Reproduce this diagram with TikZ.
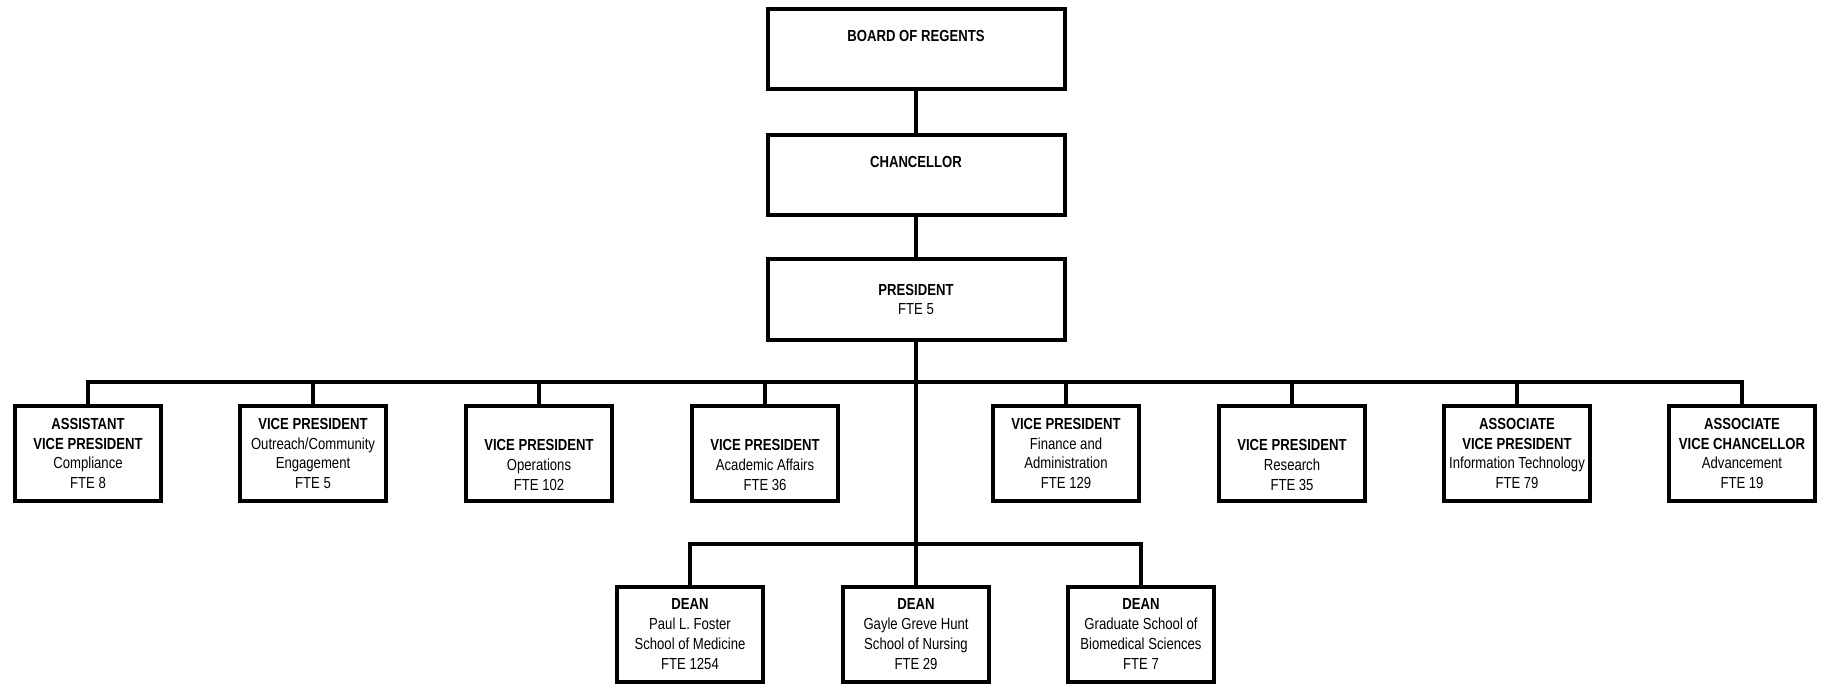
\documentclass[tikz,border=0pt]{standalone}
\usepackage{fontspec}
\setmainfont{Liberation Sans}[FakeStretch=0.82]
\begin{document}
\begin{tikzpicture}[line join=miter,x=0.5pt,y=-0.5pt,
    office/.style={draw,line width=2pt,minimum width=73pt,minimum height=47.5pt,
      inner sep=0pt,align=center,font=\fontsize{8}{9.9}\selectfont},
    topoffice/.style={office,minimum width=148.5pt,minimum height=40pt},
    link/.style={line width=1.7pt}]
		\useasboundingbox (0,0) rectangle (1825,684);
		% Top
		\node[topoffice] (board) at (916,49) {\textbf{BOARD OF REGENTS}\\\strut};
		\node[topoffice] (chanc) at (916,175) {\textbf{CHANCELLOR}\\\strut};
		\node[topoffice] (pres) at (916,299.5) {\textbf{PRESIDENT}\\FTE 5};
		\draw[link] (board)--(chanc);
		\draw[link] (chanc)--(pres);
		% Vice presidents
		\node[office] (vp1) at (88,453.5) {\textbf{ASSISTANT}\\\textbf{VICE PRESIDENT}\\Compliance\\FTE 8};
		\node[office] (vp2) at (313,453.5) {\textbf{VICE PRESIDENT}\\Outreach/Community\\Engagement\\FTE 5};
		\node[office] (vp3) at (539,453.5) {\strut\\\textbf{VICE PRESIDENT}\\Operations\\FTE 102};
		\node[office] (vp4) at (765,453.5) {\strut\\\textbf{VICE PRESIDENT}\\Academic Affairs\\FTE 36};
		\node[office] (vp5) at (1066,453.5) {\textbf{VICE PRESIDENT}\\Finance and\\Administration\\FTE 129};
		\node[office] (vp6) at (1292,453.5) {\strut\\\textbf{VICE PRESIDENT}\\Research\\FTE 35};
		\node[office] (vp7) at (1517,453.5) {\textbf{ASSOCIATE}\\\textbf{VICE PRESIDENT}\\Information Technology\\FTE 79};
		\node[office] (vp8) at (1742,453.5) {\textbf{ASSOCIATE}\\\textbf{VICE CHANCELLOR}\\Advancement\\FTE 19};
		\coordinate (bus) at (916,382);
		\draw[link] (vp1.north) |- (bus) -| (vp8.north);
		\foreach \v in {vp2,vp3,vp4,vp5,vp6,vp7}
			\draw[link] (\v.north)--(\v.north |- bus);
		% Deans
		\node[office] (dean1) at (690,634) {\textbf{DEAN}\\Paul L. Foster\\School of Medicine\\FTE 1254};
		\node[office] (dean2) at (916,634) {\textbf{DEAN}\\Gayle Greve Hunt\\School of Nursing\\FTE 29};
		\node[office] (dean3) at (1141,634) {\textbf{DEAN}\\Graduate School of\\Biomedical Sciences\\FTE 7};
		\coordinate (deanbus) at (916,544);
		\draw[link] (pres)--(deanbus);
		\draw[link] (dean1.north) |- (deanbus) -| (dean3.north);
		\draw[link] (dean2)--(deanbus);
\end{tikzpicture}
\end{document}
